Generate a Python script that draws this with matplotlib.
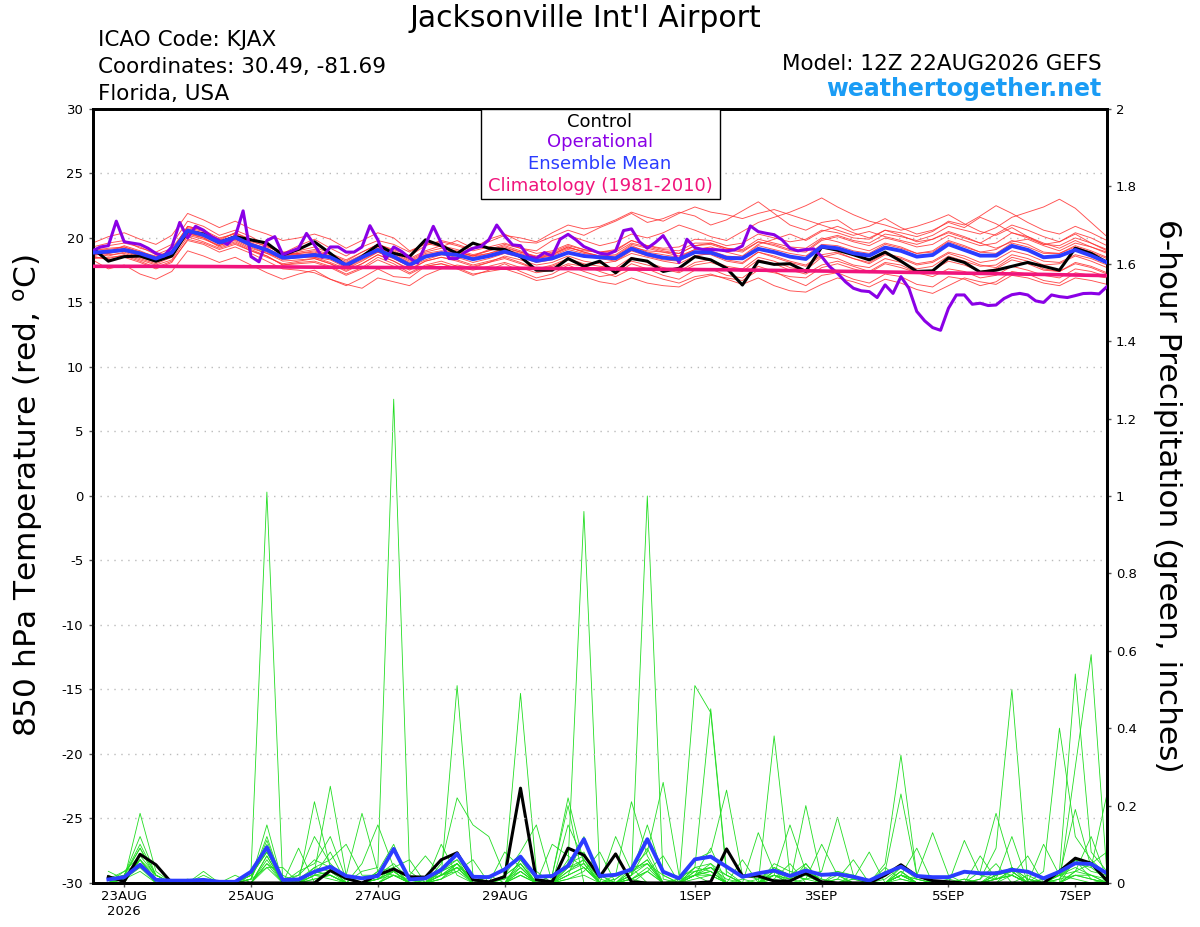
import numpy as np
import pandas as pd
import matplotlib
matplotlib.use('Agg')
import matplotlib.pyplot as plt
from matplotlib.patches import Rectangle

plt.rcParams['font.family'] = ['DejaVu Sans']
plt.rcParams['axes.unicode_minus'] = False

start = pd.Timestamp('2026-08-22 12:00')
times = pd.date_range(start, periods=65, freq='6h')
op_times = pd.date_range(start, periods=129, freq='3h')
clim_times = pd.date_range(start, periods=17, freq='D')

# 850 hPa temperature (C), 6-hourly
control_t = [19.2, 18.2, 18.55, 18.6, 18.2, 18.6, 20.5, 20.3, 19.64, 20.1,
             19.85, 19.6, 18.68, 19.12, 19.7, 18.8, 17.83, 18.55, 19.46, 18.8,
             18.55, 19.85, 19.4, 18.8, 19.6, 19.2, 19.1, 18.55, 17.5, 17.5,
             18.4, 17.8, 18.2, 17.3, 18.4, 18.2, 17.4, 17.65, 18.55, 18.3,
             17.65, 16.35, 18.2, 17.95, 18.0, 17.4, 19.3, 19.05, 18.7, 18.3,
             18.9, 18.2, 17.4, 17.45, 18.45, 18.1, 17.35, 17.5, 17.8, 18.1,
             17.8, 17.5, 19.2, 18.8, 18.1]
mean_t = [18.86, 18.94, 19.07, 18.8, 18.4, 18.86, 20.57, 20.23, 19.64, 20.05,
          19.46, 19.07, 18.47, 18.55, 18.68, 18.5, 17.9, 18.5, 19.07, 18.55,
          17.9, 18.55, 18.81, 18.68, 18.35, 18.6, 18.94, 18.6, 18.22, 18.42,
          18.86, 18.6, 18.5, 18.42, 19.17, 18.73, 18.47, 18.35, 18.9, 18.86,
          18.45, 18.42, 19.15, 18.9, 18.55, 18.37, 19.33, 19.2, 18.81, 18.63,
          19.25, 19.0, 18.55, 18.68, 19.51, 19.07, 18.63, 18.63, 19.38, 19.07,
          18.5, 18.6, 19.07, 18.63, 18.1]
# operational run, 3-hourly
oper_t = [19.0, 19.3, 19.4, 21.3, 19.7, 19.6, 19.5, 19.2, 18.8, 18.6,
          19.3, 21.2, 20.0, 20.9, 20.6, 20.1, 19.8, 19.5, 20.1, 22.1,
          18.55, 18.15, 19.8, 20.1, 18.7, 18.95, 19.2, 20.35, 19.45, 18.5,
          19.3, 19.3, 18.9, 18.9, 19.3, 20.95, 19.85, 18.35, 19.3, 18.95,
          18.45, 18.05, 19.45, 20.9, 19.6, 18.4, 18.4, 18.9, 19.2, 19.33,
          19.85, 21.0, 20.15, 19.46, 19.4, 18.55, 18.42, 18.86, 18.6, 19.9,
          20.28, 19.85, 19.33, 19.07, 18.81, 18.73, 19.0, 20.57, 20.7, 19.7,
          19.2, 19.64, 20.18, 19.2, 18.1, 19.9, 19.25, 19.1, 19.1, 19.07,
          19.0, 19.07, 19.38, 20.93, 20.49, 20.36, 20.25, 19.85, 19.2, 19.0,
          19.1, 19.15, 18.55, 17.78, 17.26, 16.6, 16.1, 15.9, 15.84, 15.38,
          16.36, 15.7, 17.0, 16.1, 14.3, 13.57, 13.05, 12.84, 14.55, 15.58,
          15.58, 14.86, 14.94, 14.76, 14.8, 15.3, 15.6, 15.7, 15.58, 15.12,
          15.0, 15.58, 15.45, 15.38, 15.53, 15.69, 15.71, 15.66, 16.23]
# climatology (1981-2010), daily
clim_t = [17.8, 17.8, 17.78, 17.75, 17.72, 17.7, 17.67, 17.64, 17.6, 17.57,
          17.53, 17.47, 17.4, 17.32, 17.25, 17.17, 17.08]

members_t = [
    [19.3, 19.6, 19.8, 19.2, 18.9, 19.5, 21.3, 20.9, 20.2, 20.6, 20.1, 19.4, 18.8, 19.4, 19.9, 19.2, 18.6, 19.3, 19.8, 19.5,
     18.9, 19.6, 19.3, 19.8, 19.2, 19.9, 20.3, 19.7, 19.6, 20.1, 20.6, 20.2, 20.8, 21.3, 21.9, 21.2, 21.5, 22.0, 21.7, 21.0,
     21.4, 22.1, 22.8, 21.9, 21.0, 20.6, 21.2, 21.4, 20.6, 20.9, 21.5, 20.8, 20.3, 20.6, 21.2, 20.8, 21.6, 21.1, 20.4, 20.1,
     19.6, 19.2, 19.8, 19.3, 18.9],
    [18.6, 18.9, 19.4, 19.0, 18.5, 19.0, 20.9, 20.6, 19.8, 20.4, 19.9, 19.5, 18.9, 18.7, 18.5, 18.1, 17.6, 18.2, 18.9, 18.4,
     17.8, 18.3, 18.7, 18.9, 18.6, 19.1, 19.5, 19.2, 19.0, 19.8, 20.2, 19.8, 19.4, 19.7, 20.3, 20.0, 20.4, 21.0, 20.6, 20.1,
     19.8, 20.5, 21.2, 21.6, 22.0, 22.5, 23.1, 22.4, 21.8, 21.3, 21.0, 20.6, 20.9, 21.3, 21.8, 21.1, 20.5, 20.2, 20.8, 20.1,
     19.5, 19.7, 20.3, 19.6, 19.0],
    [18.3, 17.6, 17.9, 17.2, 16.8, 17.4, 19.0, 18.6, 18.1, 18.5, 17.9, 17.3, 16.8, 17.2, 17.5, 16.8, 16.3, 16.9, 17.6, 17.0,
     16.9, 17.8, 18.0, 17.6, 17.1, 17.5, 18.0, 17.4, 16.9, 17.2, 17.9, 17.4, 17.0, 17.2, 18.0, 17.6, 17.1, 16.8, 17.5, 17.6,
     17.1, 16.9, 17.8, 17.4, 16.8, 16.3, 17.1, 17.3, 16.8, 16.5, 17.2, 17.0, 16.4, 16.2, 17.0, 16.8, 16.3, 16.6, 17.4, 17.2,
     16.7, 16.5, 17.3, 17.1, 16.9],
    [19.1, 19.4, 19.6, 19.3, 18.7, 19.2, 20.8, 20.5, 19.9, 20.4, 19.8, 19.3, 18.9, 19.0, 19.3, 18.8, 18.3, 18.9, 19.5, 19.0,
     18.4, 19.0, 19.4, 19.1, 18.7, 19.0, 19.4, 19.0, 18.5, 18.7, 19.3, 18.9, 18.6, 18.5, 19.3, 19.0, 18.9, 18.6, 19.1, 19.3,
     18.9, 18.6, 19.5, 19.9, 20.3, 19.8, 20.5, 20.9, 20.4, 20.0, 20.6, 20.2, 19.7, 19.9, 20.5, 20.1, 19.6, 20.3, 21.0, 20.6,
     20.1, 19.7, 20.4, 20.0, 19.4],
    [18.8, 18.6, 18.9, 18.5, 18.1, 18.6, 20.3, 20.0, 19.4, 19.9, 19.4, 19.0, 18.6, 18.9, 19.1, 18.7, 18.2, 18.9, 19.5, 19.1,
     18.6, 19.4, 19.8, 19.5, 19.1, 19.7, 20.2, 20.0, 19.7, 20.4, 21.0, 20.7, 20.9, 21.4, 22.0, 21.6, 21.3, 21.9, 22.4, 22.0,
     21.8, 21.5, 21.9, 22.2, 21.8, 21.4, 21.0, 20.6, 20.2, 20.5, 20.1, 19.8, 19.5, 19.9, 20.4, 20.0, 19.6, 19.2, 19.7, 19.9,
     19.4, 19.0, 19.6, 19.3, 18.8],
    [18.5, 18.4, 18.7, 18.3, 17.9, 18.3, 20.1, 19.7, 19.2, 19.6, 19.0, 18.6, 17.9, 18.1, 18.2, 17.8, 17.2, 17.7, 18.5, 18.0,
     17.3, 17.9, 18.2, 17.8, 17.5, 17.8, 18.1, 17.7, 17.3, 17.5, 18.0, 17.8, 17.5, 17.6, 18.2, 17.9, 17.6, 17.3, 17.9, 18.1,
     17.7, 17.4, 18.3, 18.0, 17.5, 17.2, 17.9, 18.2, 17.8, 17.4, 18.1, 17.9, 17.3, 17.0, 17.6, 17.4, 16.9, 17.1, 17.8, 17.5,
     17.1, 16.9, 17.6, 17.4, 17.0],
    [19.0, 19.2, 19.3, 18.9, 18.6, 19.0, 20.9, 20.6, 20.0, 20.3, 19.7, 19.4, 18.7, 18.8, 18.9, 18.6, 18.0, 18.6, 19.2, 18.8,
     18.2, 18.8, 19.0, 18.9, 18.6, 18.8, 19.1, 18.8, 18.4, 18.6, 19.1, 18.8, 18.6, 18.6, 19.4, 18.9, 18.7, 18.5, 19.1, 19.0,
     18.6, 18.5, 19.4, 19.1, 18.8, 18.6, 19.5, 19.4, 19.0, 18.8, 19.5, 19.2, 18.8, 18.9, 19.7, 19.3, 18.9, 18.8, 19.6, 19.3,
     18.8, 18.8, 19.3, 18.9, 18.4],
    [18.9, 18.7, 18.8, 18.4, 18.0, 18.5, 20.4, 20.1, 19.5, 19.8, 19.2, 18.8, 18.2, 18.3, 18.4, 18.0, 17.5, 18.0, 18.7, 18.2,
     17.6, 18.2, 18.5, 18.3, 17.9, 18.2, 18.5, 18.1, 17.6, 17.8, 18.3, 17.9, 17.4, 17.0, 17.6, 17.2, 16.8, 16.5, 17.0, 17.2,
     16.8, 16.4, 16.9, 16.3, 15.9, 15.8, 16.4, 16.9, 16.6, 16.2, 16.8, 16.5, 16.0, 15.7, 16.3, 16.9, 16.6, 16.4, 17.1, 16.9,
     16.5, 16.3, 16.9, 16.7, 16.4],
    [18.4, 18.5, 18.6, 18.2, 17.7, 18.2, 19.8, 19.5, 18.9, 19.3, 18.8, 18.2, 17.6, 17.5, 17.3, 16.8, 16.4, 16.1, 16.9, 16.6,
     16.3, 17.1, 17.6, 17.9, 17.7, 18.1, 18.6, 18.3, 17.9, 18.1, 18.6, 18.2, 18.0, 18.2, 18.8, 18.5, 18.2, 18.0, 18.6, 18.8,
     18.3, 18.1, 18.9, 18.6, 18.2, 17.9, 18.7, 18.9, 18.4, 18.1, 18.8, 18.5, 18.0, 18.2, 18.9, 18.6, 18.1, 18.3, 19.0, 18.7,
     18.2, 18.1, 18.7, 18.4, 17.9],
    [19.6, 20.1, 20.4, 19.9, 19.5, 20.2, 21.9, 21.4, 20.8, 21.3, 20.7, 20.3, 19.8, 20.0, 20.3, 19.9, 19.2, 19.8, 20.4, 20.0,
     19.0, 19.5, 19.7, 19.4, 19.0, 19.3, 19.6, 19.2, 18.8, 19.0, 19.5, 19.1, 18.8, 18.9, 19.6, 19.3, 19.0, 18.8, 19.4, 19.6,
     19.2, 19.0, 19.7, 19.4, 19.0, 18.9, 19.8, 20.1, 19.7, 19.4, 20.0, 19.7, 19.3, 19.5, 20.2, 19.8, 19.4, 19.6, 20.4, 20.0,
     19.5, 19.4, 20.0, 19.6, 19.1],
    [18.7, 18.8, 19.1, 18.7, 18.3, 18.8, 20.5, 20.2, 19.6, 20.0, 19.4, 18.9, 18.3, 18.5, 18.5, 18.3, 17.7, 18.3, 18.9, 18.4,
     17.8, 18.5, 18.7, 18.5, 18.1, 18.4, 18.8, 18.5, 18.1, 18.3, 18.8, 18.6, 18.4, 18.2, 19.0, 18.6, 18.3, 18.2, 18.8, 18.7,
     18.2, 18.0, 18.9, 18.5, 18.1, 17.8, 18.6, 18.4, 17.9, 17.7, 18.4, 18.1, 17.6, 17.8, 18.6, 18.2, 17.8, 17.9, 18.7, 18.4,
     17.9, 18.0, 18.6, 18.2, 17.7],
    [18.9, 19.0, 19.2, 18.8, 18.5, 18.9, 20.7, 20.4, 19.8, 20.1, 19.6, 19.2, 18.6, 18.7, 18.8, 18.5, 17.9, 18.6, 19.2, 18.7,
     18.1, 18.7, 18.9, 18.7, 18.4, 18.7, 19.0, 18.7, 18.4, 18.7, 19.2, 19.0, 18.9, 19.1, 19.8, 19.4, 19.2, 19.3, 19.9, 19.8,
     19.4, 19.6, 20.3, 20.0, 19.7, 19.9, 20.6, 20.4, 20.0, 19.9, 20.6, 20.4, 20.1, 20.5, 21.3, 21.0, 21.7, 22.5, 21.9, 21.2,
     20.6, 20.3, 20.9, 20.4, 19.8],
    [18.6, 18.3, 18.5, 18.1, 17.6, 18.1, 19.9, 19.6, 19.1, 19.5, 19.0, 18.5, 18.0, 18.2, 18.4, 18.0, 17.4, 18.0, 18.7, 18.2,
     17.5, 18.2, 18.5, 18.2, 17.8, 18.1, 18.4, 18.0, 17.6, 17.9, 18.4, 18.0, 17.8, 17.7, 18.5, 18.1, 17.7, 17.4, 18.1, 18.3,
     17.8, 17.6, 18.5, 18.2, 17.7, 17.5, 18.5, 18.8, 18.4, 18.0, 18.7, 18.4, 17.9, 18.1, 18.8, 18.4, 17.9, 17.7, 18.5, 18.2,
     17.6, 17.4, 18.1, 17.8, 17.3],
    [19.2, 19.1, 19.3, 18.9, 18.5, 19.0, 20.6, 20.3, 19.7, 20.2, 19.6, 19.1, 18.6, 18.8, 19.0, 18.6, 18.1, 18.7, 19.3, 18.9,
     18.3, 18.9, 19.2, 19.0, 18.6, 19.0, 19.3, 18.9, 18.5, 18.8, 19.3, 18.9, 18.6, 18.7, 19.5, 19.2, 18.9, 18.8, 19.4, 19.5,
     19.1, 18.9, 19.7, 19.5, 19.1, 19.0, 19.9, 20.2, 19.8, 19.6, 20.3, 20.1, 19.8, 20.2, 20.9, 20.6, 20.3, 20.8, 21.6, 22.0,
     22.4, 23.0, 22.3, 21.2, 20.1],
    [18.7, 18.9, 19.0, 18.6, 18.2, 18.7, 20.4, 20.0, 19.3, 19.7, 19.1, 18.6, 17.9, 18.0, 18.1, 17.7, 17.1, 17.6, 18.3, 17.8,
     17.2, 17.8, 18.0, 17.7, 17.2, 17.4, 17.6, 17.2, 16.7, 16.9, 17.4, 17.0, 16.6, 16.4, 16.9, 16.5, 16.3, 16.2, 16.8, 17.1,
     16.9, 16.7, 17.5, 17.3, 17.0, 16.9, 17.7, 18.0, 17.6, 17.3, 18.0, 17.7, 17.3, 17.5, 18.2, 17.9, 17.4, 17.6, 18.3, 18.0,
     17.5, 17.4, 18.0, 17.7, 17.2],
    [19.0, 18.8, 19.0, 18.6, 18.3, 18.7, 20.2, 19.9, 19.4, 19.9, 19.3, 18.8, 18.4, 18.6, 18.8, 18.4, 17.8, 18.4, 19.0, 18.6,
     18.0, 18.6, 18.9, 18.8, 18.5, 18.8, 19.2, 18.9, 18.6, 18.9, 19.4, 19.1, 18.9, 19.0, 19.8, 19.4, 19.1, 19.0, 19.6, 19.6,
     19.2, 19.1, 19.9, 19.6, 19.3, 19.2, 20.0, 19.7, 19.3, 19.0, 19.6, 19.3, 18.8, 19.0, 19.8, 19.4, 18.9, 19.1, 19.8, 19.5,
     18.9, 18.8, 19.4, 19.0, 18.5],
]

# 6-hour precipitation (inches), starting 18Z 22AUG
control_p = [0.016, 0.004, 0.074, 0.047, 0.0, 0.0, 0.0, 0.0, 0.0, 0.0,
             0.0, 0.0, 0.0, 0.0, 0.032, 0.012, 0.0, 0.021, 0.036, 0.016,
             0.015, 0.06, 0.078, 0.008, 0.003, 0.016, 0.245, 0.008, 0.003, 0.09,
             0.072, 0.016, 0.075, 0.003, 0.0, 0.0, 0.0, 0.0, 0.003, 0.088,
             0.018, 0.018, 0.005, 0.005, 0.025, 0.003, 0.0, 0.0, 0.0, 0.02,
             0.047, 0.018, 0.006, 0.003, 0.0, 0.0, 0.0, 0.0, 0.0, 0.0,
             0.03, 0.064, 0.051, 0.006]
mean_p = [0.009, 0.015, 0.047, 0.008, 0.006, 0.006, 0.008, 0.003, 0.003, 0.029,
          0.092, 0.008, 0.009, 0.029, 0.042, 0.018, 0.012, 0.018, 0.088, 0.009,
          0.012, 0.034, 0.075, 0.016, 0.015, 0.035, 0.068, 0.016, 0.018, 0.044,
          0.113, 0.018, 0.021, 0.035, 0.113, 0.029, 0.012, 0.061, 0.068, 0.042,
          0.016, 0.025, 0.032, 0.018, 0.032, 0.021, 0.023, 0.016, 0.006, 0.025,
          0.042, 0.018, 0.015, 0.015, 0.029, 0.025, 0.025, 0.034, 0.029, 0.012,
          0.029, 0.051, 0.049, 0.025]

members_p = [
    [0, .01, .18, .03, 0, 0, 0, 0, 0, .03, 1.01, 0, 0, .02, .01, 0, 0, 0, .02, 0,
     0, .01, .04, 0, 0, .01, .03, 0, .02, .2, 0, 0, 0, .01, 0, 0, 0, .02, 0, 0,
     0, .01, .02, 0, 0, 0, 0, 0, 0, .05, .33, .02, 0, 0, 0, .01, .05, 0, 0, 0,
     0, .02, .01, 0],
    [.01, .03, .05, 0, 0, 0, 0, 0, 0, .01, .04, 0, 0, .03, .02, 0, .03, .04, 1.25, .03,
     0, .1, .02, 0, 0, 0, .05, 0, 0, .02, .04, 0, .01, .04, 0, 0, 0, .51, .44, .02,
     0, 0, .03, 0, .2, .01, 0, 0, 0, 0, .02, 0, 0, 0, 0, 0, .01, .12, 0, 0,
     .02, .01, 0, .01],
    [0, .02, .09, .01, 0, 0, 0, 0, 0, 0, .06, 0, .09, 0, 0, 0, 0, .01, .03, 0,
     0, .02, .51, .02, 0, 0, .02, 0, 0, .03, .06, 0, 0, .02, 1.0, .01, 0, .03, .02, 0,
     0, 0, .02, .01, 0, 0, .01, 0, 0, 0, .03, 0, 0, .01, 0, 0, 0, .02, 0, .01,
     0, .3, .59, .02],
    [.02, 0, .06, .02, 0, 0, 0, 0, 0, 0, .05, .02, 0, .03, .25, .02, 0, 0, .02, .01,
     0, .04, .06, 0, 0, .02, .49, .03, 0, .05, .96, .02, 0, 0, .03, 0, .01, .02, .04, .02,
     0, 0, .38, .02, .03, 0, 0, .01, 0, 0, .04, .01, 0, 0, 0, 0, 0, 0, .02, 0,
     0, .03, .05, 0],
    [0, .02, .12, .02, 0, 0, 0, 0, 0, .02, .08, 0, 0, .21, .04, 0, 0, 0, .03, 0,
     0, .03, .05, .01, 0, 0, .04, 0, 0, .06, .08, 0, 0, .02, .05, 0, 0, .04, .45, .03,
     0, 0, .03, .01, .04, 0, .02, 0, 0, 0, .02, 0, 0, 0, 0, .01, .09, .5, 0, 0,
     .02, .04, .02, .01],
    [0, .01, .06, .01, 0, .01, 0, 0, 0, .01, .15, 0, .03, .05, .12, .01, 0, 0, .02, 0,
     0, .02, .04, .02, 0, 0, .03, 0, .02, .22, .05, 0, 0, .03, .06, 0, 0, .02, .03, 0,
     .01, 0, .04, .02, .02, .03, .17, .02, 0, 0, .03, 0, 0, 0, .01, 0, 0, .04, .01, 0,
     .03, .54, .08, .03],
    [.01, .02, .1, .02, 0, 0, 0, 0, 0, 0, .07, 0, 0, .04, .03, .02, .18, .03, .02, 0,
     0, .03, .05, 0, .02, 0, .06, .01, 0, .04, .06, 0, .02, .21, .07, 0, 0, .02, .05, 0,
     0, 0, .02, .15, .03, .01, 0, 0, 0, 0, .02, .01, 0, 0, 0, 0, .03, .02, 0, .01,
     .02, .05, .04, .23],
    [0, .03, .07, .02, 0, 0, 0, 0, 0, .02, .09, 0, .02, .06, .04, 0, .05, .15, .04, 0,
     0, .05, .22, .15, .12, .02, .05, 0, 0, .05, .07, .02, 0, .04, .05, .02, 0, .06, .08, .24,
     .02, .01, .04, .02, .05, 0, .03, .02, 0, .01, .04, .02, .13, .02, 0, 0, .02, .03, 0, 0,
     .01, .06, .03, .02],
    [0, .01, .05, 0, 0, 0, .03, 0, 0, .01, .1, 0, 0, .02, .03, 0, 0, .02, .05, .01,
     0, .03, .06, .02, 0, .02, .08, .15, 0, .04, .05, 0, .01, .04, .08, .26, .02, .03, .04, 0,
     0, 0, .05, .03, .02, 0, 0, .02, 0, .03, .23, .02, 0, 0, 0, 0, .02, .04, 0, .03,
     .4, .12, .06, .02],
    [.01, .02, .04, .01, 0, 0, 0, 0, 0, .02, .08, .01, .02, .12, .05, .01, 0, .03, .04, .06,
     0, .02, .05, .01, 0, .01, .04, 0, 0, .15, .06, .01, 0, .03, .05, 0, .01, .04, .05, .02,
     0, .13, .03, .02, .01, .02, .03, .01, 0, 0, .03, 0, 0, 0, .11, .02, .01, .03, 0, 0,
     .02, .19, .04, .01],
    [0, .01, .05, .01, 0, 0, 0, 0, 0, .01, .11, 0, .01, .04, .06, .1, .02, .02, .03, 0,
     0, .02, .04, 0, 0, .02, .05, 0, .1, .07, .04, 0, .12, .03, .06, 0, 0, .03, .04, .01,
     0, 0, .03, .02, .01, .1, .02, 0, 0, 0, .02, .01, 0, 0, 0, .03, .18, .04, .01, 0,
     .02, .06, .05, .08],
    [0, .02, .06, 0, 0, 0, 0, 0, 0, .02, .08, .01, 0, .03, .02, 0, 0, .03, .1, 0,
     .01, .02, .05, 0, 0, .08, .04, 0, 0, .03, .05, 0, 0, .02, .15, .02, 0, .04, .03, 0,
     0, 0, .02, .01, .02, 0, 0, .01, .08, 0, .02, 0, 0, 0, .01, 0, .02, .03, 0, .1,
     .02, .03, .02, 0],
    [0, .01, .06, .01, 0, 0, 0, 0, 0, 0, .04, .04, 0, .02, .02, 0, 0, .01, .03, .02,
     .07, .02, .03, 0, 0, 0, .03, 0, 0, .02, .12, 0, 0, .01, .04, 0, 0, .02, .02, 0,
     .06, 0, .02, 0, .01, 0, 0, 0, 0, 0, .02, .09, 0, 0, 0, 0, .01, .02, 0, 0,
     0, .03, .12, .01],
    [.03, .01, .03, 0, 0, 0, .02, 0, 0, 0, .07, 0, 0, .01, .02, 0, 0, .01, .02, 0,
     0, .01, .05, 0, 0, 0, .02, 0, 0, .01, .03, .08, 0, .01, .03, 0, 0, .02, .09, 0,
     0, 0, .01, 0, 0, 0, .01, .06, 0, 0, .01, 0, 0, 0, 0, 0, .01, .02, .07, 0,
     0, .02, .01, 0],
    [0, .02, .09, .02, 0, 0, 0, 0, 0, .01, .12, 0, 0, .02, .08, 0, 0, .01, .03, 0,
     0, .02, .04, 0, 0, 0, .06, 0, 0, .02, .04, 0, 0, .02, .09, 0, 0, .02, .03, 0,
     0, 0, .02, 0, .05, 0, 0, 0, 0, 0, .02, 0, 0, 0, 0, .07, .01, .02, 0, 0,
     .01, .02, .02, 0],
    [0, .01, .04, 0, 0, 0, 0, 0, .02, 0, .05, 0, 0, .01, .02, 0, 0, .01, .04, 0,
     0, .01, .03, .06, 0, 0, .02, 0, 0, .01, .02, 0, 0, .01, .03, .07, 0, .01, .02, 0,
     0, 0, .01, .05, 0, 0, 0, 0, 0, .04, .01, 0, 0, 0, 0, 0, .01, .02, 0, 0,
     0, .06, .01, 0],
]

tick_days = ['2026-08-23', '2026-08-25', '2026-08-27', '2026-08-29',
             '2026-09-01', '2026-09-03', '2026-09-05', '2026-09-07']
tick_labels = ['23AUG\n2026', '25AUG', '27AUG', '29AUG', '1SEP', '3SEP', '5SEP', '7SEP']

fig = plt.figure(figsize=(12, 9.27), dpi=100)
ax = fig.add_axes([0.0771, 0.0475, 0.8454, 0.835])
ax2 = ax.twinx()

# precipitation on right axis
for m in members_p:
    ax2.plot(times[1:], m, color='#22dd22', lw=0.6, zorder=1)
ax2.plot(times[1:], control_p, color='black', lw=2.2, zorder=3)
ax2.plot(times[1:], mean_p, color='#2b3cff', lw=2.8, zorder=4)

# temperature on left axis
for m in members_t:
    ax.plot(times, m, color='#ff3030', lw=0.65, alpha=0.85, zorder=2)
ax.plot(times, control_t, color='black', lw=2.2, zorder=3)
ax.plot(op_times, oper_t, color='#8a00e6', lw=2.2, zorder=4)
ax.plot(times, mean_t, color='#2b3cff', lw=2.8, zorder=5)
ax.plot(clim_times, clim_t, color='#f0147c', lw=2.6, zorder=6)
ax.set_zorder(ax2.get_zorder() + 1)
ax.patch.set_visible(False)

ax.set_ylim(-30, 30)
ax.set_yticks(np.arange(-30, 31, 5))
ax2.set_ylim(0, 2)
ax2.set_yticks(np.arange(0, 2.01, 0.2))
ax2.set_yticklabels(['0', '0.2', '0.4', '0.6', '0.8', '1', '1.2', '1.4', '1.6', '1.8', '2'])
ax.set_xlim(times[0], times[-1])
ax.set_xticks(pd.to_datetime(tick_days))
ax.set_xticklabels(tick_labels)
ax.grid(axis='y', color='#bbbbbb', linestyle=(0, (1, 4)), lw=1.0)

for a in (ax, ax2):
    for s in a.spines.values():
        s.set_linewidth(2.0)
    a.tick_params(direction='out', length=3, width=1, color='#555555', labelsize=9.5)
ax.tick_params(axis='x', labelsize=9.5, pad=2)

ax.set_ylabel('850 hPa Temperature (red, $^{\\mathrm{o}}$C)', fontsize=22.5, labelpad=12)
ax2.set_ylabel('6-hour Precipitation (green, inches)', fontsize=22.5, rotation=-90, labelpad=32)

# legend box at top centre
ax.add_patch(Rectangle((0.3826, 0.8837), 0.2359, 0.1163, transform=ax.transAxes,
                       fill=True, facecolor='white', edgecolor='black', lw=1.0, zorder=7))
leg = [('Control', 'black', 0.9836), ('Operational', '#8a00e6', 0.957),
       ('Ensemble Mean', '#2b3cff', 0.929), ('Climatology (1981-2010)', '#f0147c', 0.9005)]
for txt, c, yy in leg:
    ax.text(0.5002, yy, txt, color=c, fontsize=13, ha='center', va='center',
            transform=ax.transAxes, zorder=8)

fig.text(0.4875, 0.980, "Jacksonville Int'l Airport", fontsize=21.5, ha='center', va='center')
fig.text(0.0817, 0.957, 'ICAO Code: KJAX', fontsize=15.5, ha='left', va='center')
fig.text(0.0817, 0.928, 'Coordinates: 30.49, -81.69', fontsize=15.5, ha='left', va='center')
fig.text(0.0817, 0.899, 'Florida, USA', fontsize=15.5, ha='left', va='center')
fig.text(0.918, 0.931, 'Model: 12Z 22AUG2026 GEFS', fontsize=15.5, ha='right', va='center')
fig.text(0.918, 0.904, 'weathertogether.net', fontsize=17, ha='right', va='center',
         color='#1a9cf5', fontweight='bold')

fig.savefig('out.png', dpi=100)
